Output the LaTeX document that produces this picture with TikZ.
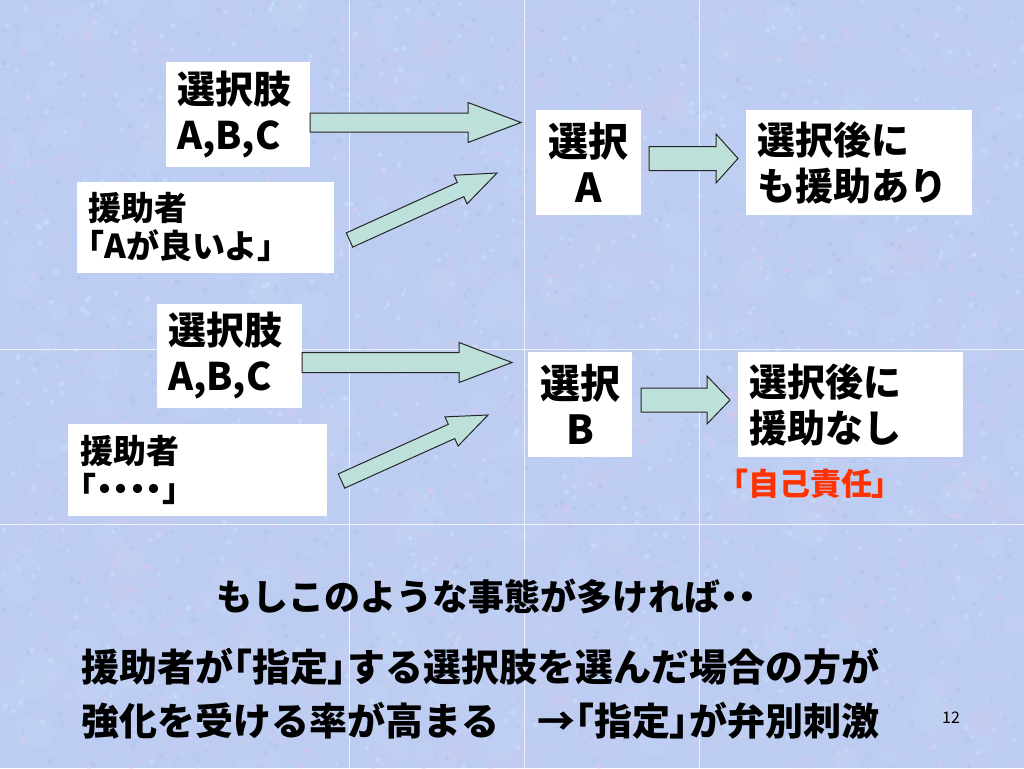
\documentclass[tikz,border=0pt]{standalone}
\usepackage{fontspec}
\setmainfont{Noto Sans CJK JP}
\newfontfamily\jpprop{Noto Sans CJK JP}[RawFeature=+palt]
\usetikzlibrary{calc}

\definecolor{slidebg}{RGB}{189,205,242}
\definecolor{speckpink}{RGB}{228,198,234}
\definecolor{speckcyan}{RGB}{204,234,252}
\definecolor{speckblue}{RGB}{166,186,234}
\definecolor{arrowfill}{RGB}{190,224,218}
\definecolor{selfred}{RGB}{255,51,0}

\tikzset{
    textbox/.style={fill=white, inner ysep=0pt},
    boxbig/.style={font=\bfseries\fontsize{38}{46}\selectfont},
    boxsmall/.style={font=\bfseries\fontsize{33}{38}\selectfont},
    fatline/.style={draw=black!85, fill=arrowfill, line width=1pt, line join=miter},
    gridline/.style={white, opacity=0.7, line width=1pt},
    slidetext/.style={anchor=west, inner sep=0pt, font=\bfseries\fontsize{38}{44}\selectfont}
}

% narrow brackets and dots as on the slide
\newcommand{\lbk}{{\jpprop 「}}
\newcommand{\rbk}{{\jpprop 」}}
\newcommand{\dts}[1]{{\jpprop #1}}

% block arrow: tail, tip, half shaft, half head, head length
\newcommand{\fatarrow}[5]{%
    \draw[fatline] ($(#1)!#3!90:(#2)$)
        -- ($(#2)!#5!(#1)!#3!90:(#2)$)
        -- ($(#2)!#5!(#1)!#4!90:(#2)$)
        -- (#2)
        -- ($(#2)!#5!(#1)!#4!-90:(#2)$)
        -- ($(#2)!#5!(#1)!#3!-90:(#2)$)
        -- ($(#1)!#3!-90:(#2)$) -- cycle;
}

\begin{document}
\begin{tikzpicture}[x=1pt,y=-1pt]
                \useasboundingbox (0,0) rectangle (1024,768);
                \fill[slidebg] (0,0) rectangle (1024,768);
                \pgfmathsetseed{7}
                \foreach \i in {1,...,250}
                {
                    \fill[speckpink, opacity=0.08] (rnd*1024,rnd*768) circle[radius={8+12*rnd}];
                    \fill[speckcyan, opacity=0.1] (rnd*1024,rnd*768) circle[radius={8+12*rnd}];
                }
                \foreach \i in {1,...,1100}
                {
                    \fill[speckpink, opacity=0.4] (rnd*1024,rnd*768) circle[radius={1+2*rnd}];
                    \fill[speckcyan, opacity=0.4] (rnd*1024,rnd*768) circle[radius={1+2*rnd}];
                    \fill[speckblue, opacity=0.3] (rnd*1024,rnd*768) circle[radius={1+1.5*rnd}];
                }
                \foreach \gx in {349,524,699}
                {
                    \draw[gridline] (\gx,0) -- (\gx,768);
                }
                \foreach \gy in {349,524}
                {
                    \draw[gridline] (0,\gy) -- (1024,\gy);
                }
                % upper case: helper names A
                \node[textbox, boxbig, align=left, inner xsep=11pt, text width=122pt, minimum height=105pt] (choiceA) at (238,114.5) {選択肢\\A,B,C};
                \node[textbox, boxsmall, align=left, inner xsep=11pt, text width=235pt, minimum height=91pt] (helperA) at (205.5,227.5) {援助者\\\lbk Aが良いよ\rbk};
                \node[textbox, font=\bfseries\fontsize{40}{46}\selectfont, align=center, inner xsep=11pt, text width=83pt, minimum height=105pt] (pickA) at (588.5,162.5) {選択\\A};
                \node[textbox, boxbig, align=left, inner xsep=11pt, text width=204pt, minimum height=105pt] (afterA) at (859,162.5) {選択後に\\も援助あり};
                \coordinate (a1s) at (310,122.5);
                \coordinate (a1e) at (521,122.5);
                \coordinate (a2s) at (349.5,240);
                \coordinate (a2e) at (497,173);
                \coordinate (a3s) at (649,158.5);
                \coordinate (a3e) at (738,158.5);
                \fatarrow{a1s}{a1e}{9.5pt}{20pt}{53pt}
                \fatarrow{a2s}{a2e}{7.8pt}{15.7pt}{40pt}
                \fatarrow{a3s}{a3e}{12pt}{24.5pt}{22pt}
                % lower case: no hint
                \node[textbox, boxbig, align=left, inner xsep=11pt, text width=123pt, minimum height=104pt] (choiceB) at (229.5,356) {選択肢\\A,B,C};
                \node[textbox, boxsmall, align=left, inner xsep=12pt, text width=235pt, minimum height=92pt] (helperB) at (197.5,470) {援助者\\\lbk\dts{・・・・}\rbk};
                \node[textbox, font=\bfseries\fontsize{40}{46}\selectfont, align=center, inner xsep=11pt, text width=82pt, minimum height=105pt] (pickB) at (580,404.5) {選択\\B};
                \node[textbox, boxbig, align=left, inner xsep=11pt, text width=203pt, minimum height=105pt] (afterB) at (850.5,404.5) {選択後に\\援助なし};
                \node[font=\bfseries\fontsize{31}{34}\selectfont, text=selfred, inner sep=0pt] (selfB) at (810,484) {\lbk 自己責任\rbk};
                \coordinate (a4s) at (302,362.5);
                \coordinate (a4e) at (512,362.5);
                \coordinate (a5s) at (341.5,481);
                \coordinate (a5e) at (488,415);
                \coordinate (a6s) at (641,400);
                \coordinate (a6e) at (730,400);
                \fatarrow{a4s}{a4e}{10pt}{20pt}{53pt}
                \fatarrow{a5s}{a5e}{7.8pt}{16pt}{40pt}
                \fatarrow{a6s}{a6e}{12pt}{24pt}{23pt}
                % conclusion
                \node[slidetext, font=\bfseries\fontsize{36}{40}\selectfont] (ifmany) at (216,596) {もしこのような事態が多ければ\dts{・・}};
                \node[slidetext] (line1) at (81,667) {援助者が\lbk 指定\rbk する選択肢を選んだ場合の方が};
                \node[slidetext] (line2) at (81,721) {強化を受ける率が高まる　→\lbk 指定\rbk が弁別刺激};
                \node[font=\fontsize{16}{18}\selectfont, inner sep=0pt] (pageno) at (951,718) {12};
            \end{tikzpicture}
\end{document}
